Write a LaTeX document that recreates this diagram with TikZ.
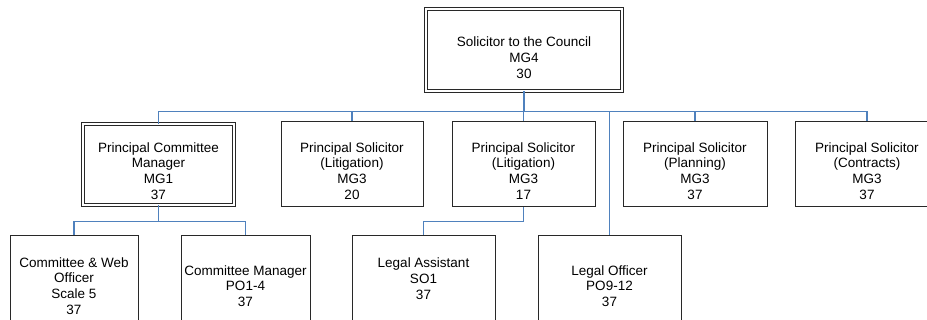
\documentclass[tikz,border=0pt]{standalone}
\usepackage{fontspec}
\setmainfont{Liberation Sans}
\usepackage{tikz}
\definecolor{linkblue}{RGB}{79, 129, 189}
\definecolor{boxline}{RGB}{40, 40, 40}

\begin{document}
\begin{tikzpicture}[x=1pt, y=-1pt,
        post/.style={draw=boxline, line width=1pt, inner sep=0pt, minimum height=85pt},
        headpost/.style={post, double, double distance=1.6pt, line width=0.9pt},
        txt/.style={align=center, inner sep=0pt, font=\fontsize{13.5}{15.8}\selectfont},
        conn/.style={linkblue, line width=1.3pt}]
        \useasboundingbox (0,0) rectangle (927,320);

        % top
        \node[headpost, minimum width=196pt, minimum height=82pt] (sol) at (524, 50) {};
        \node[txt] (solT) at ([yshift=-7.5pt]sol.center) {Solicitor to the Council\\MG4\\30};

        % second row
        \node[headpost, minimum width=151pt, minimum height=81pt] (pcm) at (158.5, 164.5) {};
        \node[post, minimum width=142pt] (litA) at (352, 164.5) {};
        \node[post, minimum width=143pt] (litB) at (523.5, 164.5) {};
        \node[post, minimum width=144pt] (plan) at (695, 164.5) {};
        \node[post, minimum width=144pt] (contr) at (867, 164.5) {};
        \node[txt] (pcmT) at ([yshift=-6.5pt]pcm.center) {Principal Committee\\Manager\\MG1\\37};
        \node[txt] (litAT) at ([yshift=-6.5pt]litA.center) {Principal Solicitor\\(Litigation)\\MG3\\20};
        \node[txt] (litBT) at ([yshift=-6.5pt]litB.center) {Principal Solicitor\\(Litigation)\\MG3\\17};
        \node[txt] (planT) at ([yshift=-6.5pt]plan.center) {Principal Solicitor\\(Planning)\\MG3\\37};
        \node[txt] (contrT) at ([yshift=-6.5pt]contr.center) {Principal Solicitor\\(Contracts)\\MG3\\37};

        % third row
        \node[post, minimum width=128pt] (web) at (74, 278.5) {};
        \node[post, minimum width=129pt] (cman) at (245.5, 278.5) {};
        \node[post, minimum width=143pt] (lasst) at (423.5, 278.5) {};
        \node[post, minimum width=143pt] (loff) at (609.5, 278.5) {};
        \node[txt] (webT) at ([yshift=-7.5pt]web.center) {Committee \& Web\\Officer\\Scale 5\\37};
        \node[txt] (cmanT) at ([yshift=-7.5pt]cman.center) {Committee Manager\\PO1-4\\37};
        \node[txt] (lasstT) at (lasst.center) {Legal Assistant\\SO1\\37};
        \node[txt] (loffT) at ([yshift=-7.5pt]loff.center) {Legal Officer\\PO9-12\\37};

        % connectors
        \coordinate (bus) at (0, 111.5);
        \coordinate (subbus) at (0, 221.5);
        \draw[conn] (sol.south) -- (sol.south |- bus);
        \foreach \n in {pcm, litA, litB, plan, contr, loff}
            \draw[conn] (sol.south |- bus) -| (\n.north);
        \draw[conn] (pcm.south) -- (pcm.south |- subbus) -| (web.north);
        \draw[conn] (pcm.south |- subbus) -| (cman.north);
        \draw[conn] (litB.south) -- (litB.south |- subbus) -| (lasst.north);
    \end{tikzpicture}
\end{document}
